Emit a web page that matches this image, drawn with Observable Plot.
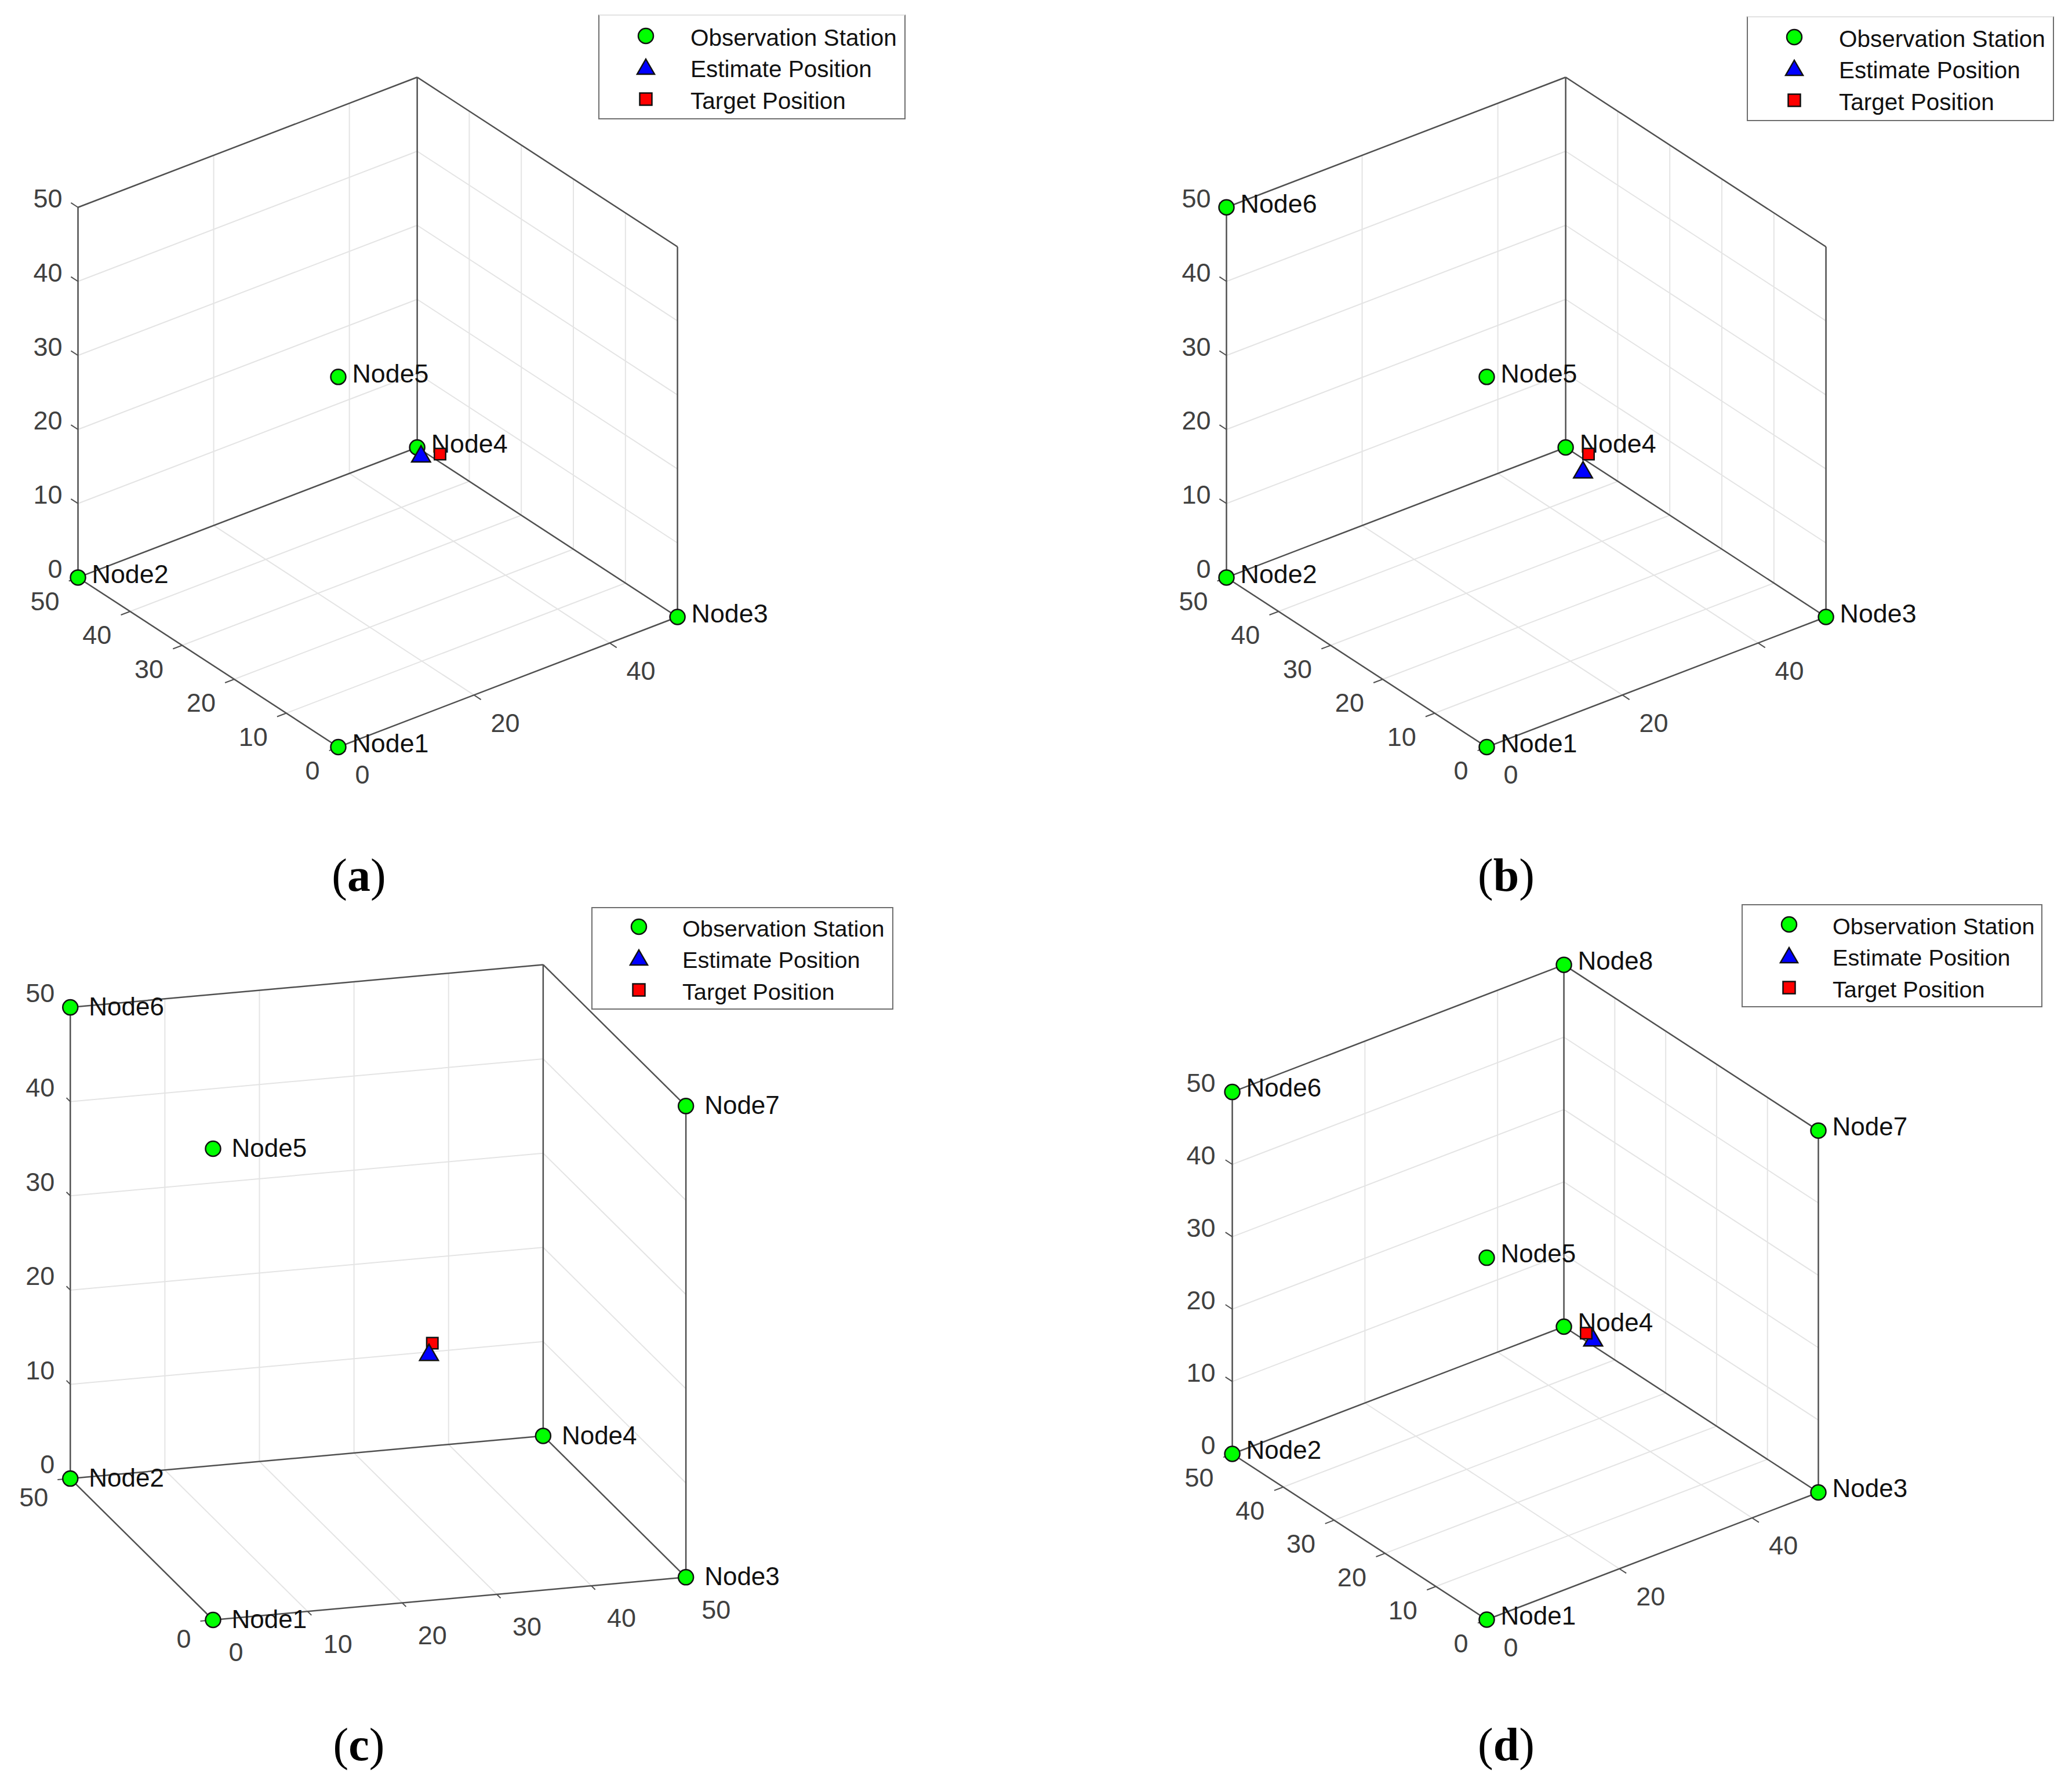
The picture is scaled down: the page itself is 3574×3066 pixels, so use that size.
<!DOCTYPE html>
<html>
<head>
<meta charset="utf-8">
<script src="https://cdn.jsdelivr.net/npm/d3@7"></script>
<script src="https://cdn.jsdelivr.net/npm/@observablehq/plot@0.6"></script>
<style>
html,body{margin:0;padding:0;background:#fff;}
#grid{display:grid;grid-template-columns:1979px 1595px;grid-template-rows:1560px 1506px;width:3574px;height:3066px;overflow:hidden;font-family:"Liberation Sans",Arial,sans-serif;}
.cell{position:relative;}
.cell svg.plot{display:block;}
.cap{width:1238px;height:100px;line-height:100px;text-align:center;font-family:"Liberation Serif",serif;font-size:80px;color:#000;}
.legend{position:absolute;box-sizing:border-box;background:#fff;border:2.5px solid #6e6e6e;color:#111;}
.legend .row{position:absolute;left:0;right:0;height:54px;line-height:54px;white-space:nowrap;}
.legend svg{position:absolute;overflow:visible;}
</style>
</head>
<body>
<div id="grid"></div>
<script>
// ---- data ----
const nodeNames = ["Node1","Node2","Node3","Node4","Node5","Node6","Node7","Node8"];
const nodeXs = [0, 0, 50, 50, 0, 0, 50, 50];
const nodeYs = [0, 50, 0, 50, 0, 50, 0, 50];
const nodeZs = [0, 0, 0, 0, 50, 50, 50, 50];
const targetPos = [28.5, 17.6, 21.5];
const estimateA = [26.7, 18.9, 21.2];
const estimateB = [25.7, 15.0, 21.2];
const estimateC = [27.3, 14.8, 21.2];
const estimateD = [28.4, 16.1, 21.2];
const ticksEvery20 = [0, 20, 40];
const ticksEvery10 = [0, 10, 20, 30, 40, 50];
const ticksEnds = [0, 50];
const legendLabels = ["Observation Station", "Estimate Position", "Target Position"];

// ---- panels: view angles, and layout ----
const panels = [
 {id:"a", az:-37.5, el:30, nodes:5, est:estimateA, xt:ticksEvery20, yt:ticksEvery10, w:1979, h:1460, ox:583, oy:1288.5, k:14.75,
  lab:{x:[29,49], y:[-32,42], z:[-27,-14], n:[24,-5], nfs:44.8}, lg:{l:1032,t:25,w:530,h:181,fs:40.5,mx:80,tx:157,r0:39,dash:true}, top:"target"},
 {id:"b", az:-37.5, el:30, nodes:6, est:estimateB, xt:ticksEvery20, yt:ticksEvery10, w:1595, h:1460, ox:585, oy:1288.5, k:14.75,
  lab:{x:[29,49], y:[-32,42], z:[-27,-14], n:[24,-5], nfs:44.8}, lg:{l:1034,t:28,w:530,h:181,fs:40.5,mx:80,tx:157,r0:38,dash:true}, top:"target"},
 {id:"c", az:-16.8, el:17.4, nodes:7, est:estimateC, xt:ticksEvery10, yt:ticksEnds, w:1979, h:1400, ox:367, oy:1234.5, k:17.04,
  lab:{x:[27,57], y:[-38,34], z:[-27,-23], n:[32,0], nfs:44}, lg:{l:1020,t:5,w:521,h:177,fs:39.7,mx:80,tx:155,r0:36,dash:false}, top:"estimate"},
 {id:"d", az:-37.5, el:30, nodes:8, est:estimateD, xt:ticksEvery20, yt:ticksEvery10, w:1595, h:1400, ox:585, oy:1234, k:14.42,
  lab:{x:[29,49], y:[-32,42], z:[-29,-14], n:[24,-6], nfs:44}, lg:{l:1025,t:0,w:519,h:178,fs:39.7,mx:80,tx:155,r0:37,dash:false}, top:"target"}
];

const MAX = 50, TICK = 1.35;
const rad = d => d * Math.PI / 180;

function project(p, X, Y, Z) {
  const a = rad(p.az), e = rad(p.el);
  return {
    x: Math.cos(a) * X + Math.sin(a) * Y,
    y: -Math.sin(e) * Math.sin(a) * X + Math.sin(e) * Math.cos(a) * Y + Math.cos(e) * Z
  };
}
const seg = (p, A, B) => {
  const a = project(p, ...A), b = project(p, ...B);
  return {x1:a.x, y1:a.y, x2:b.x, y2:b.y};
};
const inner = t => t.filter(v => v > 0 && v < MAX);

function draw(p) {
  const zt = ticksEvery10;
  const grid = [
    ...inner(p.xt).flatMap(v => [[[v,0,0],[v,MAX,0]], [[v,MAX,0],[v,MAX,MAX]]]),
    ...inner(p.yt).flatMap(v => [[[0,v,0],[MAX,v,0]], [[MAX,v,0],[MAX,v,MAX]]]),
    ...inner(zt).flatMap(v => [[[0,MAX,v],[MAX,MAX,v]], [[MAX,MAX,v],[MAX,0,v]]])
  ].map(s => seg(p, ...s));
  const box = [
    [[0,0,0],[0,MAX,0]], [[0,0,0],[MAX,0,0]], [[0,MAX,0],[MAX,MAX,0]], [[MAX,0,0],[MAX,MAX,0]],
    [[0,MAX,0],[0,MAX,MAX]], [[MAX,MAX,0],[MAX,MAX,MAX]], [[MAX,0,0],[MAX,0,MAX]],
    [[0,MAX,MAX],[MAX,MAX,MAX]], [[MAX,MAX,MAX],[MAX,0,MAX]]
  ].map(s => seg(p, ...s));
  const ticks = [
    ...p.xt.map(v => [[v,0,0],[v,-TICK,0]]),
    ...p.yt.map(v => [[0,v,0],[-TICK,v,0]]),
    ...zt.map(v => [[0,MAX,v],[0,MAX+TICK,v]])
  ].map(s => seg(p, ...s));
  const xLab = p.xt.map(v => ({...project(p, v, 0, 0), t:v}));
  const yLab = p.yt.map(v => ({...project(p, 0, v, 0), t:v}));
  const zLab = zt.map(v => ({...project(p, 0, MAX, v), t:v}));
  const nodes = nodeNames.slice(0, p.nodes).map((n, i) => ({...project(p, nodeXs[i], nodeYs[i], nodeZs[i]), n}));
  const est = [project(p, ...p.est)];
  const tgt = [project(p, ...targetPos)];

  const tickText = (data, a, anchor) => Plot.text(data, {x:"x", y:"y", text:d => String(d.t), textAnchor:anchor, dx:a[0], dy:a[1], fontSize:45, fill:"#404040"});
  const estMark = Plot.dot(est, {x:"x", y:"y", symbol:"triangle", r:12, fill:"#0000ff", stroke:"#111", strokeWidth:2.5});
  const tgtMark = Plot.dot(tgt, {x:"x", y:"y", symbol:"square", r:11, fill:"#ff0000", stroke:"#111", strokeWidth:2.5});

  return Plot.plot({
    width:p.w, height:p.h, margin:0,
    style:{fontFamily:'"Liberation Sans",Arial,sans-serif', background:"#fff"},
    className:"plot",
    x:{domain:[-p.ox/p.k, (p.w-p.ox)/p.k], axis:null},
    y:{domain:[(p.oy-p.h)/p.k, p.oy/p.k], axis:null},
    marks:[
      Plot.link(grid, {x1:"x1", y1:"y1", x2:"x2", y2:"y2", stroke:"#e4e4e4", strokeWidth:2}),
      Plot.link(ticks, {x1:"x1", y1:"y1", x2:"x2", y2:"y2", stroke:"#505050", strokeWidth:2}),
      Plot.link(box, {x1:"x1", y1:"y1", x2:"x2", y2:"y2", stroke:"#505050", strokeWidth:2.5}),
      tickText(xLab, p.lab.x, "start"),
      tickText(yLab, p.lab.y, "end"),
      tickText(zLab, p.lab.z, "end"),
      Plot.dot(nodes, {x:"x", y:"y", r:13, fill:"#00ff00", stroke:"#111", strokeWidth:2.5}),
      Plot.text(nodes, {x:"x", y:"y", text:"n", textAnchor:"start", dx:p.lab.n[0], dy:p.lab.n[1], fontSize:p.lab.nfs, fill:"#111"}),
      ...(p.top === "target" ? [estMark, tgtMark] : [tgtMark, estMark])
    ]
  });
}

function legend(p) {
  const g = p.lg, box = document.createElement("div");
  box.className = "legend";
  box.style.cssText = `left:${g.l}px;top:${g.t}px;width:${g.w}px;height:${g.h}px;font-size:${g.fs}px;` + (g.dash ? "border-top-color:#e2e2e2;" : "");
  const glyph = [
    '<circle r="13" fill="#00ff00" stroke="#111" stroke-width="2.5"/>',
    '<polygon points="0,-15 15,11 -15,11" fill="#0000ff" stroke="#111" stroke-width="2.5"/>',
    '<rect x="-10.5" y="-10.5" width="21" height="21" fill="#ff0000" stroke="#111" stroke-width="2.5"/>'
  ];
  legendLabels.forEach((t, i) => {
    const cy = g.r0 + i * 54.5;
    const row = document.createElement("div");
    row.className = "row";
    row.style.top = (cy - 28.5) + "px";
    row.style.paddingLeft = g.tx + "px";
    row.textContent = t;
    box.appendChild(row);
    const s = document.createElementNS("http://www.w3.org/2000/svg", "svg");
    s.setAttribute("width", 1); s.setAttribute("height", 1);
    s.style.left = g.mx + "px"; s.style.top = (cy - 4) + "px";
    s.innerHTML = glyph[i];
    box.appendChild(s);
  });
  return box;
}

const root = document.getElementById("grid");
for (const p of panels) {
  const cell = document.createElement("div");
  cell.className = "cell";
  cell.appendChild(draw(p));
  cell.appendChild(legend(p));
  const cap = document.createElement("div");
  cap.className = "cap";
  cap.innerHTML = `(<b>${p.id}</b>)`;
  cell.appendChild(cap);
  root.appendChild(cell);
}
</script>
</body>
</html>
